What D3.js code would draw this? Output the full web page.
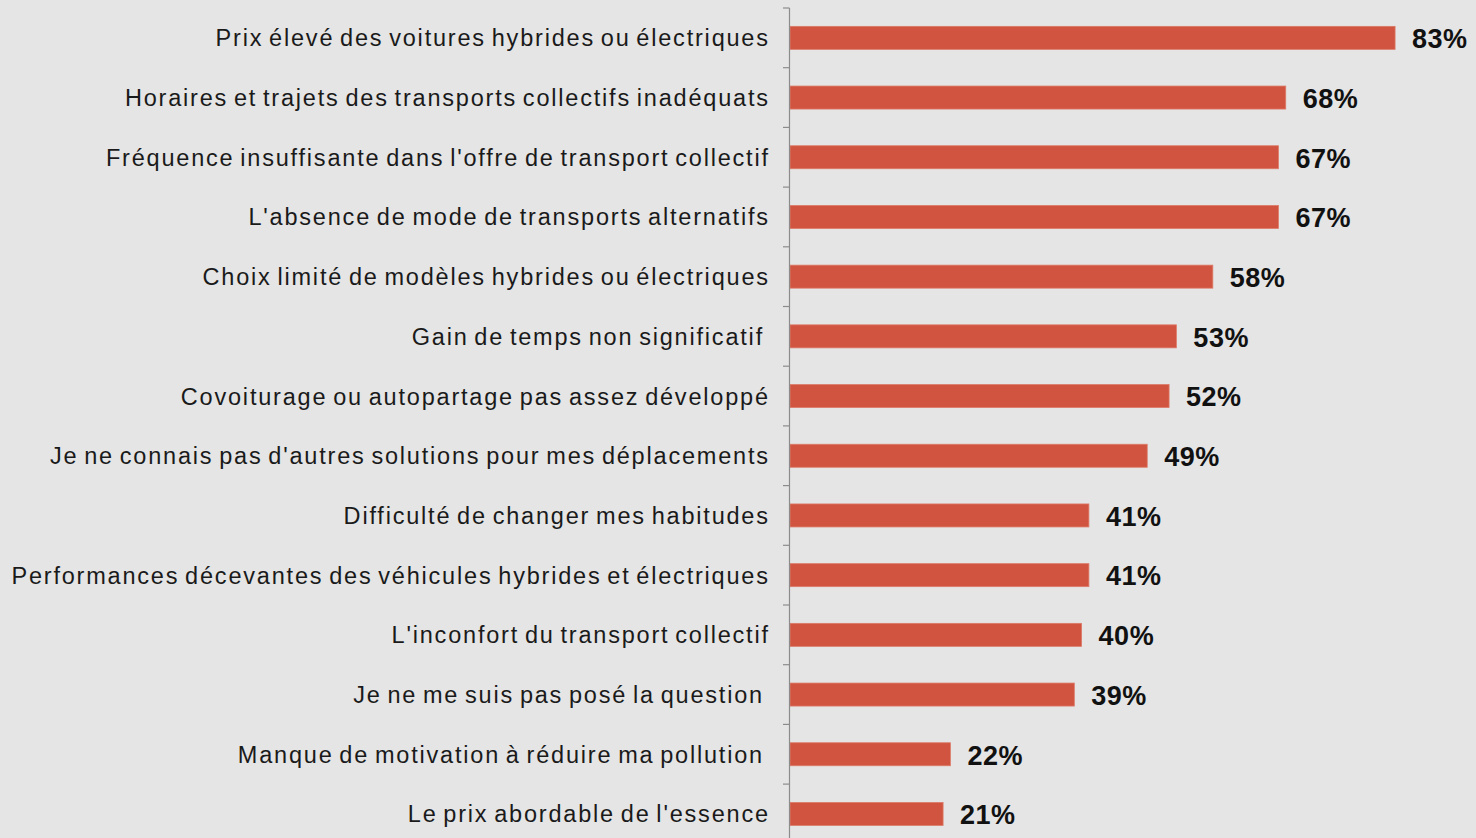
<!DOCTYPE html>
<html>
<head>
<meta charset="utf-8">
<script src="https://cdn.jsdelivr.net/npm/d3@7"></script>
<style>
  html, body { margin: 0; padding: 0; background: #e5e5e5; overflow: hidden; }
  svg { display: block; }
  text { white-space: pre; }
</style>
</head>
<body>
<div id="chart"></div>
<script>
// Freins au changement de mode de déplacement (% des répondants)
const categories = [
    "Prix élevé des voitures hybrides ou électriques",
    "Horaires et trajets des transports collectifs inadéquats",
    "Fréquence insuffisante dans l'offre de transport collectif",
    "L'absence de mode de transports alternatifs",
    "Choix limité de modèles hybrides ou électriques",
    "Gain de temps non significatif ",
    "Covoiturage ou autopartage pas assez développé",
    "Je ne connais pas d'autres solutions pour mes déplacements",
    "Difficulté de changer mes habitudes",
    "Performances décevantes des véhicules hybrides et électriques",
    "L'inconfort du transport collectif",
    "Je ne me suis pas posé la question ",
    "Manque de motivation à réduire ma pollution ",
    "Le prix abordable de l'essence"
];
const values = [83, 68, 67, 67, 58, 53, 52, 49, 41, 41, 40, 39, 22, 21];

const width = 1476;
const height = 838;
const margin = { top: 8, left: 790, right: 0 };
const step = 59.7;
const barHeight = 23;

const svg = d3.select("#chart")
    .append("svg")
    .attr("width", width)
    .attr("height", height)
    .attr("viewBox", [0, 0, width, height]);

svg.append("rect")
    .attr("width", width)
    .attr("height", height)
    .attr("fill", "#e5e5e5");

const x = d3.scaleLinear()
    .domain([0, 100])
    .range([margin.left, margin.left + 729]);

const y = d3.scaleBand()
    .domain(categories)
    .range([margin.top, margin.top + step * categories.length])
    .padding(0);

// bars
svg.selectAll(".bar")
    .data(categories)
    .enter().append("rect")
    .attr("class", "bar")
    .attr("x", x(0))
    .attr("y", d => y(d) + (y.bandwidth() - barHeight) / 2)
    .attr("width", (d, i) => x(values[i]) - x(0))
    .attr("height", barHeight)
    .attr("fill", "#d0543f")
    .attr("stroke", "#dc7a68")
    .attr("stroke-width", 0.8);

// value labels
svg.selectAll(".val")
    .data(categories)
    .enter().append("text")
    .attr("class", "val")
    .attr("x", (d, i) => x(values[i]) + 17)
    .attr("y", d => y(d) + y.bandwidth() / 2)
    .attr("dy", "0.38em")
    .style("font-family", "'Liberation Sans', Arial, sans-serif")
    .style("font-size", "27px")
    .style("font-weight", "bold")
    .style("letter-spacing", "0.5px")
    .attr("fill", "#111")
    .text((d, i) => values[i] + "%");

// category labels (the original has loose letters and tight word gaps)
svg.selectAll(".cat")
    .data(categories)
    .enter().append("text")
    .attr("class", "cat")
    .attr("x", 769.8)
    .attr("y", d => y(d) + y.bandwidth() / 2)
    .attr("dy", "0.36em")
    .attr("text-anchor", "end")
    .style("font-family", "'Liberation Sans', Arial, sans-serif")
    .style("font-size", "23.5px")
    .style("letter-spacing", "1.8px")
    .style("word-spacing", "-2.5px")
    .attr("fill", "#1a1a1a")
    .text(d => d);

// axis with ticks on category boundaries
const axis = svg.append("g").attr("stroke", "#8c8c8c").attr("stroke-width", 1.2);
axis.append("line")
    .attr("x1", x(0) - 0.5).attr("x2", x(0) - 0.5)
    .attr("y1", y.range()[0]).attr("y2", y.range()[1]);
const bounds = categories.map(d => y(d)).concat([y.range()[1]]);
axis.selectAll(".tick")
    .data(bounds)
    .enter().append("line")
    .attr("x1", x(0) - 7).attr("x2", x(0) - 0.5)
    .attr("y1", d => d).attr("y2", d => d);
</script>
</body>
</html>
